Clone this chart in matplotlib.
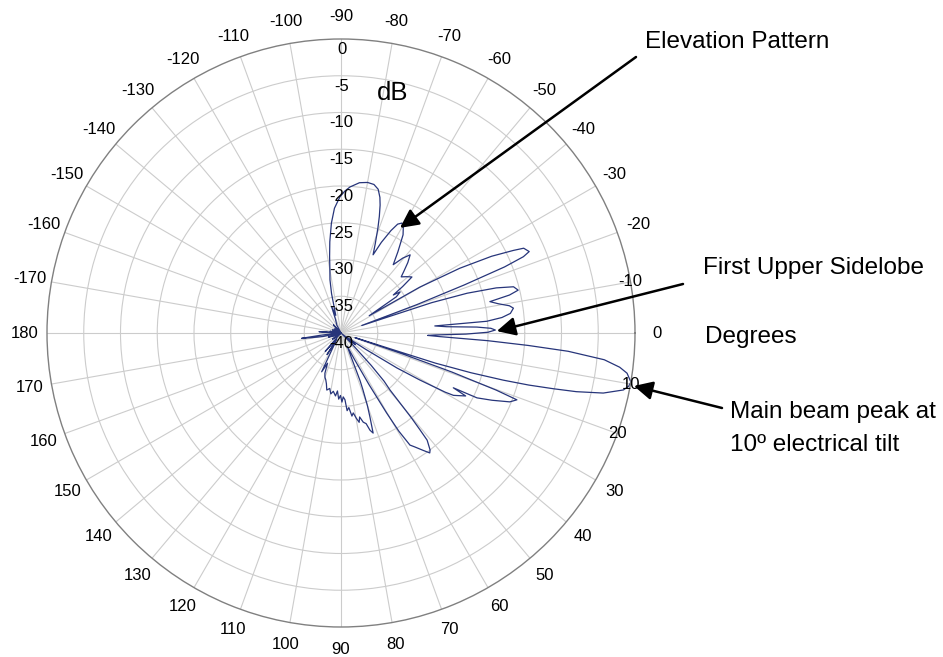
import numpy as np
import matplotlib
matplotlib.use('Agg')
import matplotlib.pyplot as plt

plt.rcParams['font.family'] = ['Liberation Sans', 'DejaVu Sans']

# elevation pattern: angle (deg, + = below horizon) and level (dB)
pattern_deg = [
    -180, -178, -176.5, -175, -171, -166, -160, -154, -147, -140, -133, -126,
    -118, -112, -109.5, -106.5, -103.5, -101.7, -100, -98.5, -97, -95, -93,
    -90.5, -88.5, -86.5, -83, -80, -77.5, -75.5, -74, -73, -71.8, -70.6, -69,
    -67.7, -66, -64, -62.5, -61, -59.5, -57.7, -55, -52.6, -50.5, -48.5, -46.5,
    -44.5, -43, -40.5, -38.3, -37, -36, -34.8, -33.2, -31.5, -30.2, -28.6, -27,
    -25.6, -24.9, -23.4, -22.7, -22, -21.3, -20.5, -19.8, -18.5, -17.5, -16.2,
    -15, -13.6, -12.7, -11.9, -10.5, -9.2, -8.2, -6.6, -5.5, -4.6, -4.3, -3.4,
    -2.5, -1.8, -1.1, -0.3, 0.5, 1.2, 1.6, 2.1, 3.0, 3.8, 4.6, 5.8, 7, 8, 9.6,
    10.5, 11.4, 12.9, 14, 14.7, 15.5, 16.2, 17, 17.7, 18.3, 18.8, 19.4, 20.2, 20.8,
    22.2, 24, 25.5, 26, 26.8, 29, 29.6, 30.8, 32, 33.5, 36, 39, 42, 45, 47,
    48.2, 49.3, 50.3, 50.8, 51.2, 52.7, 53.5, 55, 57, 58.4, 59.5, 60.3, 61.5,
    63, 65, 67, 68.2, 68.9, 70, 71, 72.2, 73.4, 74.5, 76, 77.5, 78.5, 79.8,
    81.3, 82.5, 84, 85.5, 86.6, 88, 89.2, 90.5, 92, 93.5, 95, 97.5, 99.5,
    101.5, 104, 106, 108, 110, 111.8, 114, 116.5, 118.5, 121, 123, 125, 128,
    130.6, 133, 138, 144, 150, 156, 162, 166, 169, 171, 172.3, 173.5, 176, 180,
]
pattern_db = [
    -40, -39, -37, -39.5, -38.5, -40, -38.8, -40, -39, -40, -38.5, -40,
    -38.8, -38, -36.2, -37.5, -34.5, -32.6, -31.3, -29.5, -27.5, -25, -23,
    -21.5, -20.7, -20.1, -19.4, -19.2, -19.3, -19.8, -20.8, -21.8, -23.3, -24.9, -27,
    -28.5, -26.5, -24.5, -23.3, -22.9, -23.3, -24.2, -26.5, -28.3, -26.8, -25.8, -26.8,
    -28, -28.8, -28.2, -27.7, -29.5, -31.2, -30.2, -31, -35.5, -27.6, -21.6, -17,
    -14, -12.6, -12.1, -13.1, -16, -22, -29, -37, -27, -22, -18,
    -15.7, -15.2, -16.5, -19.3, -18.2, -16.8, -16.3, -16.8, -18, -20.1, -27.2, -25.6,
    -21.5, -19.6, -19.0, -20, -23, -27.2, -28.2, -26.5, -20, -14.5, -9, -4, -1.8, -0.7, 0,
    -0.2, -0.8, -3.4, -7, -10.1, -13.5, -17, -21.5, -26.5, -38, -31, -24, -17.5, -14.4,
    -15.2, -17.5, -19.5, -23, -21, -22.5, -23.7, -27.5, -31, -36, -39, -37.5, -40, -38, -34,
    -31.2, -29.8, -25, -23, -21.3, -20, -19.7, -20.5, -21.5, -22.1, -24.5, -27.5, -32,
    -36, -38, -36.5, -33, -31.7, -29.5, -27.9, -25.7, -26.2, -27.2, -27.5, -28.3, -27.6, -28.2,
    -29, -28.6, -29.8, -29.4, -30.9, -31.3, -30.6, -31.5, -31, -32.1, -31.4, -32, -31.6,
    -32.3, -32, -32.8, -33.3, -33.6, -34.1, -35.5, -34.1, -37.5, -38.5, -36.5, -39, -38.5,
    -36.7, -39.5, -40, -38.6, -40, -39, -38.2, -40, -37.5, -36, -34.6, -37, -39, -40,
]

ring_db = [0, -5, -10, -15, -20, -25, -30, -35, -40]
angle_labels = list(range(-170, 190, 10))

fig = plt.figure(figsize=(9.43, 6.57), dpi=100)
ax = fig.add_axes([47 / 943, 30 / 657, 588 / 943, 588 / 657], projection='polar')
ax.set_theta_zero_location('E')
ax.set_theta_direction(-1)
ax.set_rlim(-40, 0)
ax.set_yticks(ring_db[1:-1])
ax.set_yticklabels([])
ax.set_xticks(np.deg2rad(np.arange(0, 360, 10)))
ax.set_xticklabels([])
ax.grid(True, color='#cccccc', lw=0.8)
ax.spines['polar'].set_edgecolor('#808080')
ax.spines['polar'].set_linewidth(1.0)

ax.plot(np.deg2rad(pattern_deg), pattern_db, color='#27357a', lw=0.9)

# angle labels round the rim (-10, 10, 20 sit on the rim in the original)
for d in angle_labels:
    r = 0.0 if d in (-10, 10, 20) else 3.0
    ax.text(np.deg2rad(d), r, str(d), ha='center', va='center', fontsize=12)

# dB labels down the -90 spoke
for v in ring_db:
    ax.annotate(str(v), xy=(np.deg2rad(-90), v), xytext=(0.5, -7.5),
                textcoords='offset points', ha='center', va='center', fontsize=12)

fig.text(393 / 943, 1 - 93 / 657, 'dB', ha='center', va='center', fontsize=18.5)
fig.text(705 / 943, 1 - 337 / 657, 'Degrees', ha='left', va='center', fontsize=17.5)

notes = [
    ('Elevation Pattern', (645, 42), (636, 57), (-60.7, -23.6)),
    ('First Upper Sidelobe', (703, 268), (683, 284), (-0.7, -18.8)),
    ('Main beam peak at', (730, 412), (722, 408), (10.25, 0.5)),
]
for txt, (tx, ty), (ax0, ay0), (th, rr) in notes:
    fig.text(tx / 943, 1 - ty / 657, txt, ha='left', va='center', fontsize=17.5)
    ax.annotate('', xy=(np.deg2rad(th), rr), xycoords='data',
                xytext=(ax0 / 943, 1 - ay0 / 657), textcoords='figure fraction',
                arrowprops=dict(arrowstyle='-|>', color='black', lw=1.8,
                                mutation_scale=28, shrinkA=0, shrinkB=0),
                annotation_clip=False)
fig.text(730 / 943, 1 - 445 / 657, '10º electrical tilt', ha='left', va='center', fontsize=17.5)

fig.savefig('out.png', dpi=100)
